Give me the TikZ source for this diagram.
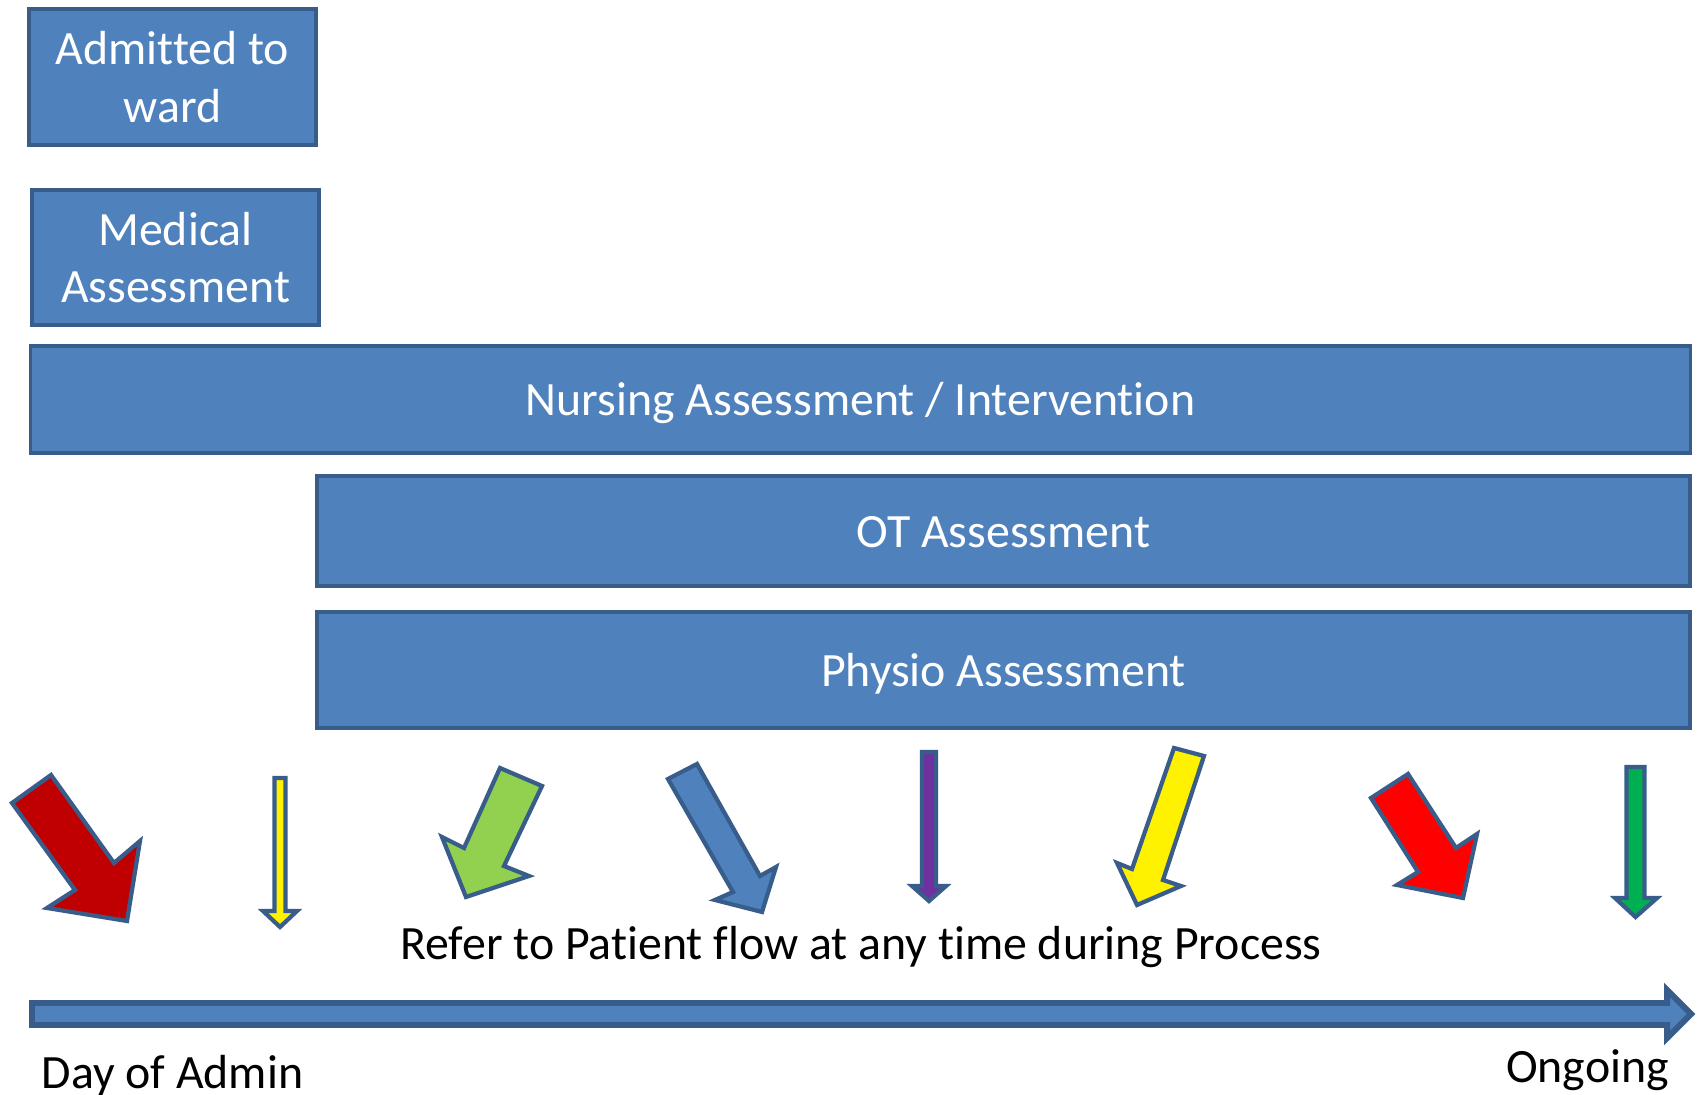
\documentclass[tikz,border=0pt]{standalone}
\usepackage{fontspec}
\setmainfont{Carlito}[Ligatures={NoCommon,NoContextual}]
\usepackage{tikz}
\usetikzlibrary{positioning}
\usepackage{xcolor}
\definecolor{boxblue}{HTML}{4F81BD}
\definecolor{edgeblue}{HTML}{385D8A}
\definecolor{darkred}{HTML}{C00000}
\definecolor{lightgreen}{HTML}{92D050}
\definecolor{darkgreen}{HTML}{00B050}
\definecolor{flowpurple}{HTML}{7030A0}

\begin{document}
\begin{tikzpicture}[x=0.01cm, y=-0.01cm,
  box/.style = {draw=edgeblue, fill=boxblue, line width=1.1pt, text=white, inner sep=0pt, align=center, font=\fontsize{13.6}{16.3}\selectfont},
  wide/.style = {box, text height=11.3pt, text depth=2pt},
  flow/.style = {draw=edgeblue, line width=1.2pt},
  lbl/.style = {anchor=base, font=\fontsize{13.6}{16.3}\selectfont}]
\useasboundingbox (0,0) rectangle (1700,1095);
\node[box, minimum width=2.87cm, minimum height=1.36cm] (admit) at (172.5,77) {Admitted to\\ward};
\node[box, minimum width=2.87cm, minimum height=1.35cm, xshift=0.03cm] (med) [below=0.41cm of admit] {Medical\\Assessment};
\node[wide, minimum width=16.59cm, minimum height=1.07cm] (nurse) at (860.5,399.5) {Nursing Assessment / Intervention};
\node[wide, minimum width=13.73cm, minimum height=1.10cm] (ot) at (1003.5,531) {OT Assessment};
\node[wide, minimum width=13.73cm, minimum height=1.16cm] (physio) [below=0.22cm of ot] {Physio Assessment};
% referral arrows
\draw[flow, fill=darkred] (12,803) -- (51,775) -- (114,863) -- (140,841) -- (127,921) -- (47,908) -- (75,890) -- cycle;
\draw[flow, fill=yellow] (274.5,778) -- (285.5,778) -- (285.5,911) -- (297,911) -- (280,927) -- (263,911) -- (274.5,911) -- cycle;
\draw[flow, fill=lightgreen] (500,768) -- (542,786) -- (504,866) -- (529,876) -- (466,897) -- (442,837) -- (464,848) -- cycle;
\draw[flow, fill=boxblue] (668,779) -- (697,764) -- (760,876) -- (776,867) -- (762,912) -- (715,900) -- (733,892) -- cycle;
\draw[flow, fill=flowpurple] (922,752) -- (936,752) -- (936,886) -- (946,886) -- (929,901) -- (912,886) -- (922,886) -- cycle;
\draw[flow, fill=yellow] (1174,748) -- (1204,756) -- (1163,880) -- (1181,886) -- (1137,905) -- (1117,863) -- (1132,869) -- cycle;
\draw[flow, fill=red] (1371,798) -- (1408,774) -- (1456,848) -- (1477,834) -- (1463,898) -- (1397,885) -- (1418,872) -- cycle;
\draw[flow, fill=darkgreen] (1626.5,767) -- (1644.5,767) -- (1644.5,898) -- (1657,898) -- (1635.5,917) -- (1615,898) -- (1626.5,898) -- cycle;
\node[lbl] (refer) at (861,959) {Refer to Patient flow at any time during Process};
% timeline
\draw[flow, line width=1.7pt, fill=boxblue] (32,1003) -- (1667,1003) -- (1667,990) -- (1691,1014) -- (1667,1038) -- (1667,1025) -- (32,1025) -- cycle;
\node[lbl] (day) at (172.5,1088) {Day of Admin};
\node[lbl] (ongoing) at (1587.5,1082) {Ongoing};
\end{tikzpicture}
\end{document}
